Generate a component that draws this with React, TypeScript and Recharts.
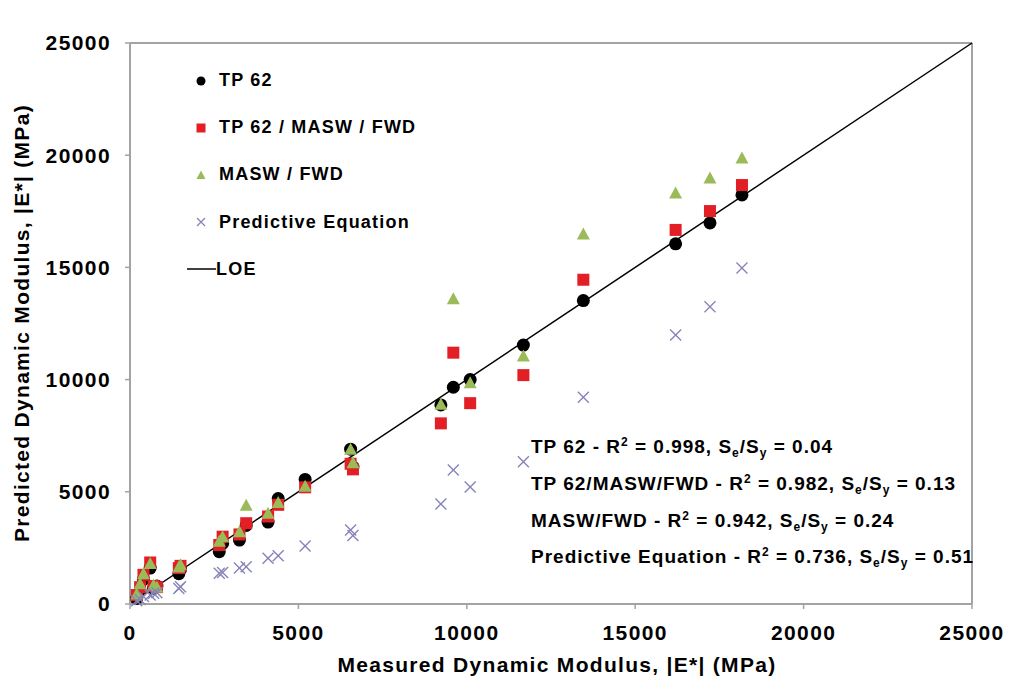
import React from "react";
import { ScatterChart, Scatter, XAxis, YAxis, ReferenceLine, Legend } from "recharts";

// measured |E*| (MPa), shared by all series
const measured = [200, 300, 400, 600, 700, 800, 1450, 1500, 2650, 2750, 3250, 3450, 4100, 4400, 5200, 6550, 6620, 9230, 9600, 10100, 11680, 13460, 16200, 17220, 18170];
// predicted |E*| (MPa)
const tp62 = [250, 600, 1100, 1600, 700, 800, 1350, 1550, 2330, 2700, 2850, 3500, 3650, 4700, 5550, 6900, 6100, 8870, 9660, 10000, 11540, 13520, 16050, 16980, 18230];
const tp62MaswFwd = [400, 750, 1300, 1850, 800, 750, 1600, 1700, 2630, 3000, 3100, 3600, 3900, 4420, 5200, 6250, 6000, 8050, 11200, 8950, 10200, 14450, 16670, 17510, 18670];
const maswFwd = [450, 900, 1350, 1800, 850, 750, 1650, 1750, 2800, 3000, 3220, 4400, 4040, 4520, 5250, 6900, 6300, 8900, 13600, 9860, 11050, 16490, 18320, 18980, 19880];
const predictive = [150, 200, 330, 400, 480, 500, 690, 770, 1370, 1400, 1600, 1660, 2040, 2150, 2590, 3300, 3050, 4460, 5970, 5210, 6340, 9210, 11990, 13250, 14970];

const axisTicks = [0, 5000, 10000, 15000, 20000, 25000];
const legendNames = ["TP 62", "TP 62 / MASW / FWD", "MASW / FWD", "Predictive Equation", "LOE"];
const stats = [
  { name: "TP 62", r2: "0.998", ratio: "0.04" },
  { name: "TP 62/MASW/FWD ", r2: "0.982", ratio: "0.13" },
  { name: "MASW/FWD ", r2: "0.942", ratio: "0.24" },
  { name: "Predictive Equation", r2: "0.736", ratio: "0.51" },
];

const toPoints = (ys: number[]) => measured.map((x, i) => ({ x, y: ys[i] }));

const FONT = "'Liberation Sans', Arial, Helvetica, sans-serif";
const RED = "#e31f26";
const GREEN = "#9bbb59";
const PURPLE = "#8784b8";
const AXIS = "#a3a3a3";

const Dot = (p: any) => <circle cx={p.cx} cy={p.cy} r={6.5} fill="#000" />;
const Square = (p: any) => <rect x={p.cx - 6} y={p.cy - 6} width={12} height={12} fill={RED} />;
const Tri = (p: any) => (
  <polygon points={`${p.cx},${p.cy - 6.5} ${p.cx + 6.5},${p.cy + 5.5} ${p.cx - 6.5},${p.cy + 5.5}`} fill={GREEN} />
);
const Cross = (p: any) => (
  <g stroke={PURPLE} strokeWidth={1.4}>
    <line x1={p.cx - 5.5} y1={p.cy - 5.5} x2={p.cx + 5.5} y2={p.cy + 5.5} />
    <line x1={p.cx - 5.5} y1={p.cy + 5.5} x2={p.cx + 5.5} y2={p.cy - 5.5} />
  </g>
);

const legendIcon = (i: number) => {
  if (i === 0) return <circle cx={15} cy={12} r={4.5} fill="#000" />;
  if (i === 1) return <rect x={10.5} y={7.5} width={9} height={9} fill={RED} />;
  if (i === 2) return <polygon points="15,7.5 19.5,16 10.5,16" fill={GREEN} />;
  if (i === 3)
    return (
      <g stroke={PURPLE} strokeWidth={1.3}>
        <line x1={11} y1={8} x2={19} y2={16} />
        <line x1={11} y1={16} x2={19} y2={8} />
      </g>
    );
  return <line x1={1} y1={12} x2={30} y2={12} stroke="#000" strokeWidth={1.5} />;
};

const renderLegend = () => (
  <div style={{ fontFamily: FONT, fontWeight: "bold", fontSize: 18, letterSpacing: 1.2, color: "#000" }}>
    {legendNames.map((n, i) => (
      <div key={n} style={{ height: 47.2, display: "flex", alignItems: "center" }}>
        <svg width={30} height={24}>{legendIcon(i)}</svg>
        <span style={{ marginLeft: i === 4 ? 0 : 3 }}>{n}</span>
      </div>
    ))}
  </div>
);

const tickStyle = { fontSize: 21, fontWeight: "bold", fill: "#000", fontFamily: FONT, letterSpacing: 1.4 };

// the outer frame is drawn in the chart's own svg, in pixel space of the surface
const Frame = () => (
  <g>
    <line x1={7} y1={5} x2={7} y2={694} stroke="#000" strokeWidth={2} />
    <line x1={6} y1={5} x2={1021} y2={5} stroke="#000" strokeWidth={2} />
  </g>
);

export default function App() {
  return (
    <div style={{ position: "relative", width: 1021, height: 694, margin: -8, background: "#fff" }}>
      <ScatterChart width={1021} height={694} margin={{ top: 43, right: 49, bottom: 0, left: 0 }}>
        <XAxis
          type="number"
          dataKey="x"
          domain={[0, 25000]}
          ticks={axisTicks}
          height={90}
          tick={tickStyle}
          tickSize={5}
          tickMargin={16}
          axisLine={{ stroke: AXIS, strokeWidth: 2 }}
          tickLine={{ stroke: AXIS, strokeWidth: 1.5 }}
        />
        <YAxis
          type="number"
          dataKey="y"
          domain={[0, 25000]}
          ticks={axisTicks}
          width={130}
          tick={tickStyle}
          tickSize={5}
          tickMargin={14}
          axisLine={{ stroke: AXIS, strokeWidth: 2 }}
          tickLine={{ stroke: AXIS, strokeWidth: 1.5 }}
        />
        <ReferenceLine y={25000} stroke={AXIS} strokeWidth={2} />
        <ReferenceLine x={25000} stroke={AXIS} strokeWidth={2} />
        <ReferenceLine segment={[{ x: 0, y: 0 }, { x: 25000, y: 25000 }]} stroke="#000" strokeWidth={1.5} />
        <Scatter name="TP 62" data={toPoints(tp62)} shape={Dot} isAnimationActive={false} />
        <Scatter name="TP 62 / MASW / FWD" data={toPoints(tp62MaswFwd)} shape={Square} isAnimationActive={false} />
        <Scatter name="MASW / FWD" data={toPoints(maswFwd)} shape={Tri} isAnimationActive={false} />
        <Scatter name="Predictive Equation" data={toPoints(predictive)} shape={Cross} isAnimationActive={false} />
        <Frame />
        <Legend
          layout="vertical"
          align="center"
          verticalAlign="middle"
          content={renderLegend}
          wrapperStyle={{ left: 186, top: 57, width: 320 }}
        />
      </ScatterChart>

      {/* fit statistics */}
      <div
        style={{
          position: "absolute",
          left: 531,
          top: 429,
          fontFamily: FONT,
          fontWeight: "bold",
          fontSize: 19,
          letterSpacing: 1,
          lineHeight: "36.8px",
          whiteSpace: "nowrap",
          color: "#000",
        }}
      >
        {stats.map((s) => (
          <div key={s.name}>
            {s.name} - R<span style={{ fontSize: 12, verticalAlign: 7, lineHeight: 0 }}>2</span> = {s.r2}, S
            <span style={{ fontSize: 12, verticalAlign: -4, lineHeight: 0 }}>e</span>/S
            <span style={{ fontSize: 12, verticalAlign: -4, lineHeight: 0 }}>y</span> = {s.ratio}
          </div>
        ))}
      </div>

      {/* axis titles */}
      <div
        style={{
          position: "absolute",
          left: 22,
          top: 323,
          transform: "translate(-50%, -50%) rotate(-90deg)",
          whiteSpace: "nowrap",
          fontFamily: FONT,
          fontWeight: "bold",
          fontSize: 21,
          letterSpacing: 1.3,
        }}
      >
        Predicted Dynamic Modulus, |E*| (MPa)
      </div>
      <div
        style={{
          position: "absolute",
          left: 557,
          top: 665,
          transform: "translate(-50%, -50%)",
          whiteSpace: "nowrap",
          fontFamily: FONT,
          fontWeight: "bold",
          fontSize: 21,
          letterSpacing: 1.3,
        }}
      >
        Measured Dynamic Modulus, |E*| (MPa)
      </div>
    </div>
  );
}
